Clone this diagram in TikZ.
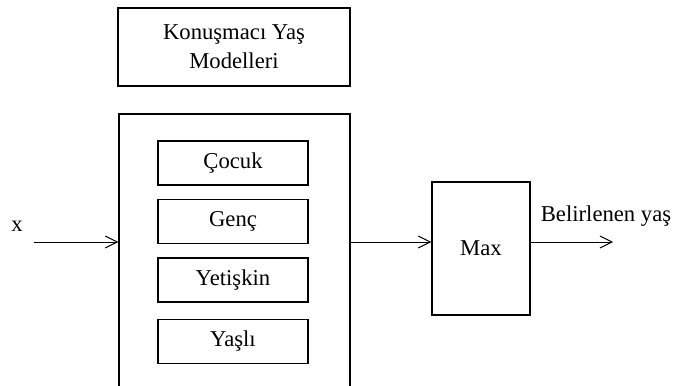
\documentclass[tikz,border=0pt]{standalone}
\usepackage{fontspec}
\setmainfont{Liberation Serif}
\usetikzlibrary{positioning,arrows.meta}

\begin{document}
\begin{tikzpicture}[x=0.75pt,y=-0.75pt,
  font=\fontsize{17}{21.75}\selectfont,
  box/.style={draw, line width=0.8pt, inner sep=0pt, align=center},
  agebox/.style={box, minimum width=112.5pt, minimum height=33pt},
  link/.style={line width=0.75pt, -{Straight Barb[length=9pt,width=9pt]}}]
\clip (0,0) rectangle (673,385);
\node[box, minimum width=174pt, minimum height=58.5pt] (models) at (234,47) {Konuşmacı Yaş\\Modelleri};
\node[box, minimum width=173.25pt, minimum height=214.5pt] (bank) at (234.5,257) {};
\node[agebox] (cocuk) at (233,163) {Çocuk};
\node[agebox] (genc) at (233,221.5) {Genç};
\node[agebox] (yetiskin) at (233,280) {Yetişkin};
\node[agebox] (yasli) at (233,341.5) {Yaşlı};
\node[box, minimum width=73.5pt, minimum height=99.75pt] (max) at (481,248.5) {Max};
\node (xlab) at (17,226) {x};
\node (outlab) at (606,216) {Belirlenen yaş};
\coordinate (xin) at (34,242);
\coordinate (out) at (613,242);
\draw[link] (xin) -- (xin -| bank.west);
\draw[link] (xin -| bank.east) -- (xin -| max.west);
\draw[link] (xin -| max.east) -- (out);
\end{tikzpicture}
\end{document}
